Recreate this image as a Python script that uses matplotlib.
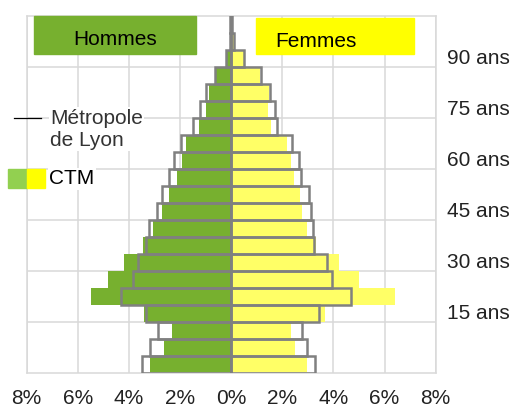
import numpy as np
import matplotlib
matplotlib.use('Agg')
import matplotlib.pyplot as plt
from matplotlib.patches import Rectangle
from matplotlib.lines import Line2D

plt.rcParams['font.family'] = ['Liberation Sans', 'DejaVu Sans']

# tranches d'âge quinquennales (bas de chaque tranche)
age_bas = [0, 5, 10, 15, 20, 25, 30, 35, 40, 45, 50, 55, 60, 65, 70, 75, 80, 85, 90, 95, 100]

# CTM (barres pleines), en % de la population
ctm_hommes = [3.18, 2.62, 2.33, 3.41, 5.48, 4.83, 4.18, 3.46, 3.07, 2.71, 2.42,
              2.13, 1.94, 1.77, 1.25, 0.99, 0.86, 0.58, 0.15, 0.04, 0.01]
ctm_femmes = [2.97, 2.49, 2.33, 3.66, 6.40, 4.99, 4.22, 3.30, 2.98, 2.78, 2.69,
              2.44, 2.33, 2.19, 1.57, 1.45, 1.47, 1.12, 0.50, 0.12, 0.02]

# Métropole de Lyon (contours)
lyon_hommes = [3.50, 3.18, 2.88, 3.35, 4.31, 3.83, 3.64, 3.35, 3.23, 2.92, 2.72,
               2.42, 2.23, 1.98, 1.49, 1.22, 0.99, 0.64, 0.22, 0.05, 0.03]
lyon_femmes = [3.28, 2.97, 2.78, 3.44, 4.68, 3.96, 3.75, 3.23, 3.20, 3.12, 3.05,
               2.75, 2.66, 2.38, 1.80, 1.71, 1.51, 1.16, 0.52, 0.10, 0.03]

x_ticks = [-8, -6, -4, -2, 0, 2, 4, 6, 8]
x_labels = ['8%', '6%', '4%', '2%', '0%', '2%', '4%', '6%', '8%']
age_labels = ['15 ans', '30 ans', '45 ans', '60 ans', '75 ans', '90 ans']
age_label_pos = [17.5, 32.5, 47.5, 62.5, 77.5, 92.5]

vert = '#77B02F'
jaune = '#FFFF66'
gris = '#808080'
grille = '#D9D9D9'
fs = 15

W, H = 513, 408
fig = plt.figure(figsize=(W / 100, H / 100), dpi=100)
ax = fig.add_axes([26.7 / W, 1 - 373.3 / H, (435.7 - 26.7) / W, (373.3 - 15.7) / H])

ax.barh(age_bas, -np.array(ctm_hommes), height=5, align='edge', color=vert, zorder=2)
ax.barh(age_bas, ctm_femmes, height=5, align='edge', color=jaune, zorder=2)
ax.barh(age_bas, -np.array(lyon_hommes), height=5, align='edge', fill=False,
        edgecolor=gris, linewidth=1.8, zorder=3)
ax.barh(age_bas, lyon_femmes, height=5, align='edge', fill=False,
        edgecolor=gris, linewidth=1.8, zorder=3)

ax.set_xlim(-8, 8)
ax.set_ylim(0, 105)
ax.set_xticks(x_ticks)
ax.set_xticklabels(x_labels, fontsize=fs, color='#222222')
ax.set_yticks([15, 30, 45, 60, 75, 90])
ax.set_yticklabels([])
for y, lab in zip(age_label_pos, age_labels):
    ax.text(1.027, y, lab, transform=ax.get_yaxis_transform(), fontsize=fs,
            color='#222222', va='center', ha='left')
ax.tick_params(axis='both', length=0)
ax.tick_params(axis='x', pad=11)
ax.grid(True, color=grille, linewidth=1.1, zorder=0)
ax.set_axisbelow(True)
for s in ax.spines.values():
    s.set_color(grille)
    s.set_linewidth(1.1)

# cartouches Hommes / Femmes
def fig_rect(x0, y0, x1, y1, color):
    fig.patches.append(Rectangle((x0 / W, 1 - y1 / H), (x1 - x0) / W, (y1 - y0) / H,
                                 transform=fig.transFigure, color=color, zorder=5))

fig_rect(34.3, 15.7, 196, 54.3, vert)
fig_rect(256.3, 17.7, 414, 54.3, '#FFFF00')
fig.text(115 / W, 1 - 39.5 / H, 'Hommes', fontsize=fs, ha='center', va='center', zorder=6)
fig.text(316 / W, 1 - 41.5 / H, 'Femmes', fontsize=fs, ha='center', va='center', zorder=6)

# légende
fig.add_artist(Line2D([14 / W, 40.7 / W], [1 - 117.5 / H, 1 - 117.5 / H],
                      color='black', linewidth=0.9, zorder=6))
fig.text(50 / W, 1 - 129 / H, 'Métropole\nde Lyon', fontsize=fs, ha='left', va='center',
         color='#333333', linespacing=1.2, zorder=6,
         bbox=dict(facecolor='white', edgecolor='none', pad=1))
fig_rect(8.3, 169, 26.7, 187.7, '#92D050')
fig_rect(26.7, 169, 45, 187.7, '#FFFF00')
fig.text(49 / W, 1 - 179 / H, 'CTM', fontsize=fs, ha='left', va='center', zorder=6,
         bbox=dict(facecolor='white', edgecolor='none', pad=1))

fig.savefig('out.png', dpi=100)
